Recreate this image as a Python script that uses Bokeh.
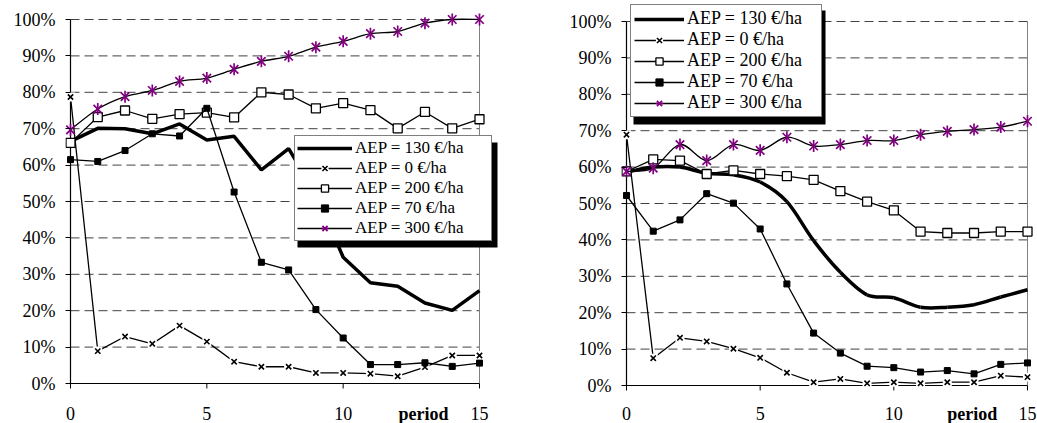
import math
from bokeh.plotting import figure
from bokeh.models import (Range1d, FixedTicker, PrintfTickFormatter, Legend,
                          LegendItem, ColumnDataSource, BoxAnnotation)
from bokeh.core.properties import value
from bokeh.layouts import row
from bokeh.embed import file_html
from bokeh.resources import INLINE

# ---------------- data ----------------
periods = list(range(16))
y_ticks = [0, 10, 20, 30, 40, 50, 60, 70, 80, 90, 100]
x_ticks = [0, 5, 10, 15]
series_labels = ["AEP = 130 €/ha", "AEP = 0 €/ha", "AEP = 200 €/ha",
                 "AEP = 70 €/ha", "AEP = 300 €/ha"]
x_title = "period"

# left chart (%)
left_130 = [66.5, 70.1, 70.0, 68.6, 71.3, 66.9, 67.9, 58.7, 64.5, 52.0, 34.7, 27.7, 26.7, 22.1, 20.1, 25.5]
left_0 = [78.7, 8.9, 12.9, 10.9, 15.9, 11.5, 6.0, 4.6, 4.6, 2.9, 2.9, 2.7, 2.0, 4.5, 7.7, 7.7]
left_200 = [66.1, 73.2, 75.0, 72.7, 74.0, 74.4, 73.1, 80.0, 79.4, 75.6, 77.0, 75.1, 70.1, 74.6, 70.1, 72.6]
left_70 = [61.5, 61.0, 64.0, 68.6, 68.0, 75.6, 52.6, 33.3, 31.2, 20.3, 12.5, 5.2, 5.2, 5.7, 4.7, 5.6]
left_300 = [69.7, 75.4, 78.8, 80.5, 83.0, 83.9, 86.3, 88.5, 89.9, 92.4, 94.0, 96.1, 96.7, 99.0, 100.0, 100.0]

# right chart (%)
right_130 = [58.6, 60.0, 60.0, 58.3, 57.9, 55.9, 50.5, 39.8, 31.1, 24.9, 24.1, 21.5, 21.5, 22.2, 24.3, 26.3]
right_0 = [68.9, 7.5, 13.1, 12.1, 10.1, 7.6, 3.5, 0.9, 1.8, 0.6, 0.9, 0.6, 0.9, 0.9, 2.7, 2.3]
right_200 = [58.8, 62.1, 61.8, 58.1, 59.1, 58.1, 57.5, 56.5, 53.4, 50.5, 48.1, 42.3, 41.9, 41.9, 42.3, 42.3]
right_70 = [52.2, 42.4, 45.5, 52.7, 50.1, 43.0, 27.9, 14.4, 8.9, 5.3, 4.9, 3.7, 4.1, 3.2, 5.8, 6.2]
right_300 = [58.8, 59.7, 66.2, 61.8, 66.2, 64.6, 68.2, 65.8, 66.2, 67.3, 67.3, 68.9, 69.8, 70.3, 71.0, 72.6]

FONT = "Liberation Serif"
PURPLE = "#800080"
GRID = "#404040"


def smooth_source(xs, ys):
    """Bezier control points (Catmull-Rom style) so the line is drawn smoothed through the data."""
    n = len(xs)
    c = dict(x0=[], y0=[], x1=[], y1=[], cx0=[], cy0=[], cx1=[], cy1=[])
    for i in range(n - 1):
        xp, yp = (xs[i - 1], ys[i - 1]) if i > 0 else (xs[i], ys[i])
        xn, yn = (xs[i + 2], ys[i + 2]) if i + 2 < n else (xs[i + 1], ys[i + 1])
        c["x0"].append(xs[i]); c["y0"].append(ys[i])
        c["x1"].append(xs[i + 1]); c["y1"].append(ys[i + 1])
        c["cx0"].append(xs[i] + (xs[i + 1] - xp) / 6.0)
        c["cy0"].append(ys[i] + (ys[i + 1] - yp) / 6.0)
        c["cx1"].append(xs[i + 1] - (xn - xs[i]) / 6.0)
        c["cy1"].append(ys[i + 1] - (yn - ys[i]) / 6.0)
    return ColumnDataSource(c)


def draw_line(p, ys, width, smooth):
    if smooth:
        return p.bezier(x0="x0", y0="y0", x1="x1", y1="y1", cx0="cx0", cy0="cy0",
                        cx1="cx1", cy1="cy1", source=smooth_source(periods, ys),
                        line_color="black", line_width=width)
    return p.line(periods, ys, line_color="black", line_width=width)


def make_chart(data, smooth, xr, yr, fw, fh, mbl, mbr, px_per_y,
               leg_loc, leg_kw, shadow_px, x0_px, px_per_x, zero_px,
               title_x, label_y):
    p = figure(frame_width=fw, frame_height=fh, x_range=Range1d(*xr),
               y_range=Range1d(*yr), min_border_left=mbl, min_border_right=mbr,
               min_border_top=0, min_border_bottom=0, output_backend="svg",
               toolbar_location=None, background_fill_color="white",
               border_fill_color="white")
    p.outline_line_color = None

    # y axis: Bokeh ticks + labels
    p.yaxis.ticker = FixedTicker(ticks=y_ticks)
    p.yaxis.formatter = PrintfTickFormatter(format="%d%%")
    p.yaxis.axis_line_color = None
    p.yaxis.major_tick_in = 5
    p.yaxis.major_tick_out = 0
    p.yaxis.minor_tick_line_color = None
    p.yaxis.major_label_standoff = 10
    p.yaxis.major_label_text_font = FONT
    p.yaxis.major_label_text_font_size = "18px"
    p.yaxis.major_label_text_color = "black"
    p.yaxis.major_tick_line_color = "black"
    p.xaxis.visible = False
    p.xgrid.visible = False
    p.ygrid.visible = False

    tick_len = 5.0 / px_per_y
    # dashed gridlines between the first and last period tick
    p.segment(x0=[x_ticks[0]] * (len(y_ticks) - 1), x1=[x_ticks[-1]] * (len(y_ticks) - 1),
              y0=y_ticks[1:], y1=y_ticks[1:], line_color=GRID, line_width=1, line_dash="9 5")
    # axis lines and plot-area border
    p.segment(x0=[x_ticks[0]], x1=[x_ticks[-1]], y0=[y_ticks[0]], y1=[y_ticks[0]],
              line_color="black", line_width=1.2)
    p.segment(x0=[x_ticks[0]], x1=[x_ticks[0]], y0=[y_ticks[0]], y1=[y_ticks[-1]],
              line_color="black", line_width=1.2)
    p.segment(x0=[x_ticks[-1]], x1=[x_ticks[-1]], y0=[y_ticks[0]], y1=[y_ticks[-1]],
              line_color="#808080", line_width=1)
    # x ticks, tick labels and the "period" title
    p.segment(x0=x_ticks, x1=x_ticks, y0=[0] * len(x_ticks), y1=[-tick_len] * len(x_ticks),
              line_color="black", line_width=1)
    p.text(x=x_ticks, y=[label_y] * len(x_ticks), text=[str(t) for t in x_ticks],
           text_align="center", text_baseline="alphabetic", text_font=value(FONT),
           text_font_size="18px", text_color="black")
    p.text(x=[title_x], y=[label_y], text=[x_title], text_align="center",
           text_baseline="alphabetic", text_font=value(FONT), text_font_style="bold",
           text_font_size="18px", text_color="black")

    v130, v0, v200, v70, v300 = data
    r130 = [draw_line(p, v130, 3.5, "130" in smooth)]
    r0 = [draw_line(p, v0, 1.3, False),
          p.scatter(periods, v0, marker="square", size=9, fill_color="white", line_color=None),
          p.scatter(periods, v0, marker="x", size=7.5, line_color="black", line_width=1.6)]
    r200 = [draw_line(p, v200, 1.3, False),
            p.scatter(periods, v200, marker="square", size=9, fill_color="white",
                      line_color="black", line_width=1.3)]
    r70 = [draw_line(p, v70, 1.3, False),
           p.scatter(periods, v70, marker="square", size=6, fill_color="black",
                     line_color="black")]
    r300 = [draw_line(p, v300, 1.3, "300" in smooth),
            p.scatter(periods, v300, marker="x", size=12, line_color=PURPLE, line_width=1.7),
            p.scatter(periods, v300, marker="dash", angle=math.pi / 2, size=12,
                      line_color=PURPLE, line_width=1.7)]
    groups = [r130, r0, r200, r70, r300]

    # legend drop shadow (pixel box converted to data units)
    sl, st, sr, sb = shadow_px
    to_x = lambda px: (px - x0_px) / px_per_x
    to_y = lambda py: (zero_px - py) / px_per_y
    p.add_layout(BoxAnnotation(left=to_x(sl), right=to_x(sr), top=to_y(st), bottom=to_y(sb),
                               fill_color="black", fill_alpha=1, line_color=None))

    lg = Legend(items=[LegendItem(label=lab, renderers=rs)
                       for lab, rs in zip(series_labels, groups)],
                location=leg_loc, margin=0, glyph_height=18, label_height=18,
                label_standoff=3, label_text_font=FONT,
                label_text_color="black", border_line_color="black", border_line_width=1,
                background_fill_color="white", background_fill_alpha=1, spacing=0, **leg_kw)
    p.add_layout(lg)
    return p


# left: x=0 at px 70, x=15 at px 479; 0% at px 383, 100% at px 19
p1 = make_chart([left_130, left_0, left_200, left_70, left_300], smooth={"300"},
                xr=(-5 / 27.267, (498 - 70) / 27.267), yr=(-(423 - 383) / 3.64, 100 + 19 / 3.64),
                fw=433, fh=423, mbl=65, mbr=42, px_per_y=3.64,
                leg_loc=(229, 182),
                leg_kw=dict(padding=2, glyph_width=55, label_width=134,
                            label_text_font_size="17px"),
                shadow_px=(297, 142, 497, 247), x0_px=70, px_per_x=27.267, zero_px=383,
                title_x=12.95, label_y=-(413 - 383) / 3.64)
# right: x=0 at px 626, x=15 at px 1027; 0% at px 385, 100% at px 21
p2 = make_chart([right_130, right_0, right_200, right_70, right_300], smooth={"300", "130"},
                xr=(-5 / 26.73, 15 + 10 / 26.73), yr=(-(423 - 385) / 3.64, 100 + 21 / 3.64),
                fw=416, fh=423, mbl=81, mbr=0, px_per_y=3.64,
                leg_loc=(9, 306),
                leg_kw=dict(padding=3, glyph_width=50, label_width=131,
                            label_text_font_size="18px"),
                shadow_px=(633, 10, 825, 124), x0_px=626, px_per_x=26.73, zero_px=385,
                title_x=12.93, label_y=-(413 - 385) / 3.64)

layout = row(p1, p2)
open("out.html", "w").write(file_html(layout, INLINE))
